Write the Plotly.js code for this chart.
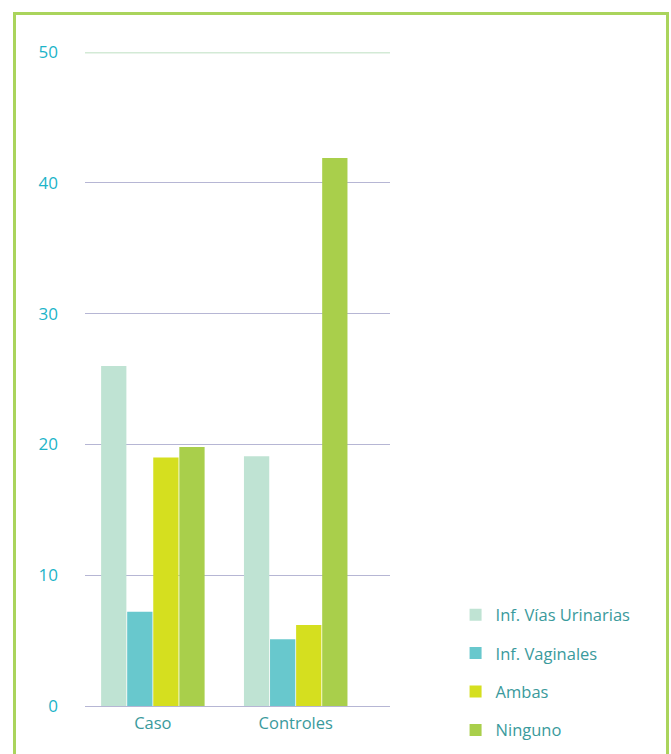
<!DOCTYPE html>
<html><head><meta charset="utf-8">
<script src="https://cdn.plot.ly/plotly-3.0.1.min.js"></script>
<style>
html,body{margin:0;padding:0;background:#fff;overflow:hidden;}
#wrap{position:relative;width:671px;height:754px;}
#chart{position:absolute;left:0;top:0;width:671px;height:754px;}
#frame{position:absolute;left:13px;top:12px;width:650px;height:780px;border:3px solid #aad45c;pointer-events:none;}
</style></head>
<body>
<div id="wrap"><div id="chart"></div><div id="frame"></div></div>
<script>
const categories = ["Caso", "Controles"];
const seriesNames = ["Inf. Vías Urinarias", "Inf. Vaginales", "Ambas", "Ninguno"];
const infViasUrinarias = [26, 19.1];
const infVaginales = [7.2, 5.1];
const ambas = [19, 6.2];
const ninguno = [19.8, 41.9];
const yTicks = [0, 10, 20, 30, 40, 50];

const colors = ["#bfe3d3", "#68c8cd", "#d5df1f", "#a9cf4b"];
const values = [infViasUrinarias, infVaginales, ambas, ninguno];

const traces = values.map((v, i) => ({
  type: "bar",
  name: seriesNames[i],
  x: categories,
  y: v,
  marker: {color: colors[i]},
  legendgroup: "g" + i,
  hoverinfo: "x+y+name"
}));

const layout = {
  width: 671, height: 754,
  margin: {l: 85, r: 281, t: 52, b: 48, autoexpand: false},
  paper_bgcolor: "#ffffff",
  plot_bgcolor: "#ffffff",
  barmode: "group",
  bargap: 0.27,
  bargroupgap: 0.03,
  font: {family: "Open Sans, sans-serif"},
  xaxis: {
    type: "category",
    automargin: false,
    range: [-0.475, 1.66],
    showgrid: false,
    showline: false,
    zeroline: false,
    ticks: "",
    tickfont: {size: 16.5, color: "#3a9a9c", family: "Open Sans, sans-serif"},
    ticklabelstandoff: 5
  },
  yaxis: {
    automargin: false,
    range: [0, 50],
    tickvals: yTicks,
    ticktext: yTicks.map(String),
    showgrid: true,
    gridcolor: "#b6b6d4",
    gridwidth: 1,
    zeroline: true,
    zerolinecolor: "#b6b6d4",
    zerolinewidth: 1,
    showline: false,
    ticks: "",
    ticklabelstandoff: 26,
    tickfont: {size: 17, color: "#1cb4c9", family: "Open Sans, sans-serif"}
  },
  shapes: [{
    type: "line", xref: "paper", yref: "y",
    x0: 0, x1: 1, y0: 50, y1: 50,
    line: {color: "#d3ead6", width: 3},
    layer: "below"
  }],
  legend: {
    x: 1.215, xanchor: "left",
    y: 0.166, yanchor: "top",
    font: {size: 16.5, color: "#3a9a9c", family: "Open Sans, sans-serif"},
    tracegroupgap: 14,
    itemwidth: 30,
    bgcolor: "rgba(0,0,0,0)"
  },
  showlegend: true
};

Plotly.newPlot("chart", traces, layout, {displayModeBar: false, staticPlot: true});
</script>
</body></html>
